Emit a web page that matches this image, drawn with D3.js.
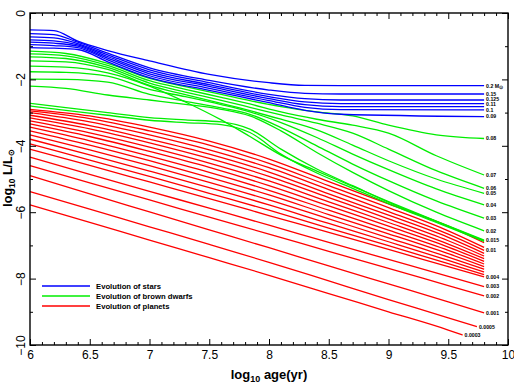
<!DOCTYPE html>
<html>
<head>
<meta charset="utf-8">
<script src="https://cdn.jsdelivr.net/npm/d3@7"></script>
<style>
  body { margin: 0; background: #fff; }
  svg text { font-family: "Liberation Sans", Arial, sans-serif; }
</style>
</head>
<body>
<div class="chart"></div>
<script>
// log10 age grid (yr) for each family of tracks
var starAges = [6, 6.2, 6.4, 6.65, 7.0, 7.5, 8.0, 8.3, 8.6, 9.8];
var dwarfAges = [6, 6.3, 6.65, 7.0, 7.3, 7.6, 7.84, 8.1, 8.4, 8.7, 9.0, 9.4, 9.8];
var planetAges = [6, 6.5, 7, 7.5, 8, 8.5, 9, 9.5, 9.8];

// stars (blue), log10 L/Lsun
var starLabels = ["0.2 M⊙", "0.15", "0.125", "0.11", "", "0.1", "0.09"];
var starLum = [
  [-0.51, -0.53, -0.85, -1.13, -1.44, -1.85, -2.10, -2.18, -2.19, -2.19],
  [-0.62, -0.65, -0.88, -1.21, -1.65, -2.03, -2.32, -2.42, -2.44, -2.44],
  [-0.72, -0.75, -0.92, -1.26, -1.71, -2.10, -2.45, -2.58, -2.62, -2.62],
  [-0.81, -0.84, -0.96, -1.31, -1.77, -2.16, -2.52, -2.68, -2.73, -2.73],
  [-0.88, -0.91, -1.00, -1.36, -1.83, -2.21, -2.58, -2.76, -2.82, -2.82],
  [-0.95, -0.98, -1.04, -1.41, -1.89, -2.27, -2.64, -2.84, -2.91, -2.92],
  [-1.04, -1.06, -1.10, -1.47, -1.95, -2.33, -2.70, -2.93, -3.05, -3.12]
];

// brown dwarfs (green)
var dwarfLabels = ["0.08", "0.07", "0.06", "0.05", "0.015", "0.04", "0.03", "0.02", "", ""];
var dwarfLum = [
  [-1.15, -1.22, -1.52, -1.97, -2.22, -2.45, -2.64, -2.82, -2.98, -3.10, -3.38, -3.67, -3.78],
  [-1.23, -1.29, -1.58, -2.04, -2.30, -2.54, -2.74, -2.98, -3.20, -3.38, -3.62, -4.30, -4.88],
  [-1.32, -1.37, -1.64, -2.11, -2.38, -2.63, -2.84, -3.07, -3.32, -3.62, -4.10, -4.75, -5.28],
  [-1.44, -1.47, -1.70, -2.18, -2.46, -2.72, -2.94, -3.20, -3.52, -3.98, -4.45, -5.00, -5.43],
  [-1.60, -1.63, -1.80, -2.20, -2.68, -3.22, -3.72, -4.28, -4.76, -5.22, -5.68, -6.27, -6.84],
  [-1.77, -1.79, -1.90, -2.30, -2.52, -2.76, -2.98, -3.30, -3.75, -4.25, -4.72, -5.30, -5.78],
  [-1.99, -2.00, -2.08, -2.45, -2.66, -2.86, -3.05, -3.45, -4.00, -4.55, -5.05, -5.66, -6.18],
  [-2.20, -2.27, -2.47, -2.62, -2.75, -2.90, -3.10, -3.55, -4.20, -4.80, -5.35, -6.00, -6.56],
  [-2.72, -2.85, -3.00, -3.15, -3.22, -3.28, -3.50, -4.10, -4.70, -5.20, -5.70, -6.28, -6.86],
  [-2.80, -2.93, -3.08, -3.23, -3.30, -3.36, -3.60, -4.25, -4.82, -5.28, -5.74, -6.31, -6.88]
];

// planets (red)
var planetLabels = ["", "", "0.01", "", "", "", "", "", "", "", "", "", "0.004", "0.003", "0.002", "0.001", "0.0005", "0.0003"];
var planetLastAge = [9.8, 9.8, 9.8, 9.8, 9.8, 9.8, 9.8, 9.8, 9.8, 9.8, 9.8, 9.8, 9.8, 9.8, 9.8, 9.8, 9.74, 9.62];
var planetLum = [
  [-2.90, -3.10, -3.44, -3.86, -4.40, -5.08, -5.75, -6.42, -6.92],
  [-2.95, -3.18, -3.55, -3.98, -4.53, -5.20, -5.86, -6.56, -7.06],
  [-3.00, -3.28, -3.67, -4.12, -4.66, -5.32, -5.98, -6.66, -7.15],
  [-3.08, -3.39, -3.80, -4.25, -4.79, -5.45, -6.09, -6.76, -7.24],
  [-3.16, -3.49, -3.91, -4.38, -4.92, -5.56, -6.20, -6.86, -7.32],
  [-3.25, -3.61, -4.04, -4.52, -5.06, -5.69, -6.31, -6.96, -7.40],
  [-3.34, -3.72, -4.17, -4.65, -5.20, -5.81, -6.42, -7.05, -7.48],
  [-3.44, -3.85, -4.31, -4.80, -5.34, -5.94, -6.54, -7.15, -7.56],
  [-3.55, -3.98, -4.45, -4.95, -5.48, -6.07, -6.65, -7.25, -7.64],
  [-3.67, -4.12, -4.60, -5.10, -5.63, -6.20, -6.77, -7.35, -7.72],
  [-3.80, -4.27, -4.76, -5.26, -5.78, -6.34, -6.89, -7.45, -7.80],
  [-3.94, -4.43, -4.92, -5.43, -5.94, -6.48, -7.01, -7.55, -7.88],
  [-4.10, -4.59, -5.09, -5.59, -6.10, -6.61, -7.12, -7.64, -7.95],
  [-4.34, -4.86, -5.37, -5.88, -6.39, -6.91, -7.42, -7.93, -8.24],
  [-4.60, -5.12, -5.63, -6.15, -6.66, -7.18, -7.69, -8.21, -8.52],
  [-4.90, -5.45, -5.99, -6.53, -7.07, -7.62, -8.16, -8.70, -9.03],
  [-5.38, -5.91, -6.44, -6.97, -7.51, -8.07, -8.63, -9.18, -9.45],
  [-5.78, -6.31, -6.84, -7.37, -7.90, -8.45, -9.00, -9.55, -9.70]
];

var legendLabels = ["Evolution of stars", "Evolution of brown dwarfs", "Evolution of planets"];
var familyColors = ["#0000ff", "#00ee00", "#ff0000"];

var xMajor = [6, 6.5, 7, 7.5, 8, 8.5, 9, 9.5, 10];
var yMajor = [0, -2, -4, -6, -8, -10];

document.addEventListener("DOMContentLoaded", drawChart)

function drawChart() {
  var width = 514,
    height = 387,
    left = 30, right = 508, top = 13, bottom = 345;

  var svg = d3.select(".chart").append("svg")
    .attr("width", width)
    .attr("height", height)

  var x = d3.scaleLinear().domain([6, 10]).range([left, right]),
    y = d3.scaleLinear().domain([-10, 0]).range([bottom, top]);

  var xMinor = d3.range(60, 101).map(d => d / 10).filter(d => xMajor.indexOf(d) < 0),
    yMinor = [-1, -3, -5, -7, -9];

  var line = d3.line()
    .x(d => x(d[0]))
    .y(d => y(d[1]))
    .curve(d3.curveMonotoneX)

  function track(ages, lum, last) {
    return lum.map((v, i) => [i === ages.length - 1 && last ? last : ages[i], v])
  }

  var families = [
    { ages: planetAges, lum: planetLum, labels: planetLabels, last: planetLastAge, color: familyColors[2] },
    { ages: dwarfAges, lum: dwarfLum, labels: dwarfLabels, last: null, color: familyColors[1] },
    { ages: starAges, lum: starLum, labels: starLabels, last: null, color: familyColors[0] }
  ]

  families.forEach(fam => {
    var tracks = fam.lum.map((lum, i) => ({
      pts: track(fam.ages, lum, fam.last ? fam.last[i] : null),
      label: fam.labels[i]
    }))

    svg.append("g")
      .selectAll("path")
      .data(tracks)
      .enter().append("path")
      .attr("d", d => line(d.pts))
      .attr("fill", "none")
      .attr("stroke", fam.color)
      .attr("stroke-width", 1.3)

    // label positions at the end of each track, pushed apart when crowded
    var labelled = tracks.filter(d => d.label)
      .map(d => {
        var end = d.pts[d.pts.length - 1]
        return { label: d.label, lx: x(end[0]) + 2, ly: y(end[1]) }
      })
      .sort((a, b) => a.ly - b.ly)
    var gap = 5.4
    for (var pass = 0; pass < 20; pass++) {
      for (var i = 1; i < labelled.length; i++) {
        var a = labelled[i - 1], b = labelled[i]
        if (Math.abs(a.lx - b.lx) < 10 && b.ly - a.ly < gap) {
          var push = (gap - (b.ly - a.ly)) / 2
          a.ly -= push
          b.ly += push
        }
      }
    }

    var lab = svg.append("g")
      .selectAll("text")
      .data(labelled)
      .enter().append("text")
      .attr("x", d => d.lx)
      .attr("y", d => d.ly)
      .attr("dy", "0.35em")
      .attr("font-size", 5.2)
      .attr("font-weight", "bold")
      .attr("fill", "#000")

    lab.each(function (d) {
      var t = d3.select(this)
      if (d.label.indexOf("⊙") > 0) {
        t.append("tspan").text(d.label.replace("⊙", ""))
        t.append("tspan").attr("dy", 1.5).attr("font-size", 4.5).text("⊙")
      } else {
        t.text(d.label)
      }
    })
  })

  // frame
  svg.append("rect")
    .attr("x", left).attr("y", top)
    .attr("width", right - left).attr("height", bottom - top)
    .attr("fill", "none")
    .attr("stroke", "#000")
    .attr("stroke-width", 1.4)

  function addAxis(axis, tx, ty) {
    var g = svg.append("g")
      .attr("transform", `translate(${tx},${ty})`)
      .call(axis)
    g.select(".domain").remove()
    g.selectAll("line").attr("stroke", "#000").attr("stroke-width", 1)
    return g
  }

  var fmt = d3.format("")
  var xb = addAxis(d3.axisBottom(x).tickValues(xMajor).tickSize(-6).tickPadding(5).tickFormat(fmt), 0, bottom)
  addAxis(d3.axisBottom(x).tickValues(xMinor).tickSize(-3).tickFormat(""), 0, bottom)
  addAxis(d3.axisTop(x).tickValues(xMajor).tickSize(-6).tickFormat(""), 0, top)
  addAxis(d3.axisTop(x).tickValues(xMinor).tickSize(-3).tickFormat(""), 0, top)

  var yl = addAxis(d3.axisLeft(y).tickValues(yMajor).tickSize(-6).tickFormat(fmt), left, 0)
  addAxis(d3.axisLeft(y).tickValues(yMinor).tickSize(-3).tickFormat(""), left, 0)
  addAxis(d3.axisRight(y).tickValues(yMajor).tickSize(-6).tickFormat(""), right, 0)
  addAxis(d3.axisRight(y).tickValues(yMinor).tickSize(-3).tickFormat(""), right, 0)

  xb.selectAll("text")
    .attr("font-size", 12)
    .attr("font-family", "Liberation Sans, Arial, sans-serif")
    .attr("fill", "#000")

  yl.selectAll("text")
    .attr("x", 0)
    .attr("dy", null)
    .attr("text-anchor", "middle")
    .attr("transform", "translate(-5,0) rotate(-90)")
    .attr("font-size", 12)
    .attr("font-family", "Liberation Sans, Arial, sans-serif")
    .attr("fill", "#000")

  // axis titles
  var xt = svg.append("text")
    .attr("x", (left + right) / 2)
    .attr("y", 379)
    .attr("text-anchor", "middle")
    .attr("font-family", "Liberation Serif, serif")
    .attr("font-weight", "bold")
    .attr("font-size", 13)
  xt.append("tspan").text("log")
  xt.append("tspan").attr("dy", 3).attr("font-size", 9).text("10")
  xt.append("tspan").attr("dy", -3).text(" age(yr)")

  var yt = svg.append("text")
    .attr("transform", "translate(12,178) rotate(-90)")
    .attr("text-anchor", "middle")
    .attr("font-family", "Liberation Serif, serif")
    .attr("font-weight", "bold")
    .attr("font-size", 12.5)
  yt.append("tspan").text("log")
  yt.append("tspan").attr("dy", 2.5).attr("font-size", 8.5).text("10")
  yt.append("tspan").attr("dy", -2.5).text(" L/L")
  yt.append("tspan").attr("dy", 2).attr("font-size", 8).text("⊙")

  // legend
  var legend = svg.append("g")
    .selectAll("g")
    .data(legendLabels)
    .enter().append("g")
    .attr("transform", (d, i) => `translate(42,${286 + i * 10})`)

  legend.append("line")
    .attr("x1", 0).attr("x2", 48)
    .attr("stroke", (d, i) => familyColors[i])
    .attr("stroke-width", 1.5)

  legend.append("text")
    .attr("x", 54)
    .attr("dy", "0.35em")
    .attr("font-size", 7.7)
    .attr("font-weight", "bold")
    .text(d => d)
}
</script>
</body>
</html>
